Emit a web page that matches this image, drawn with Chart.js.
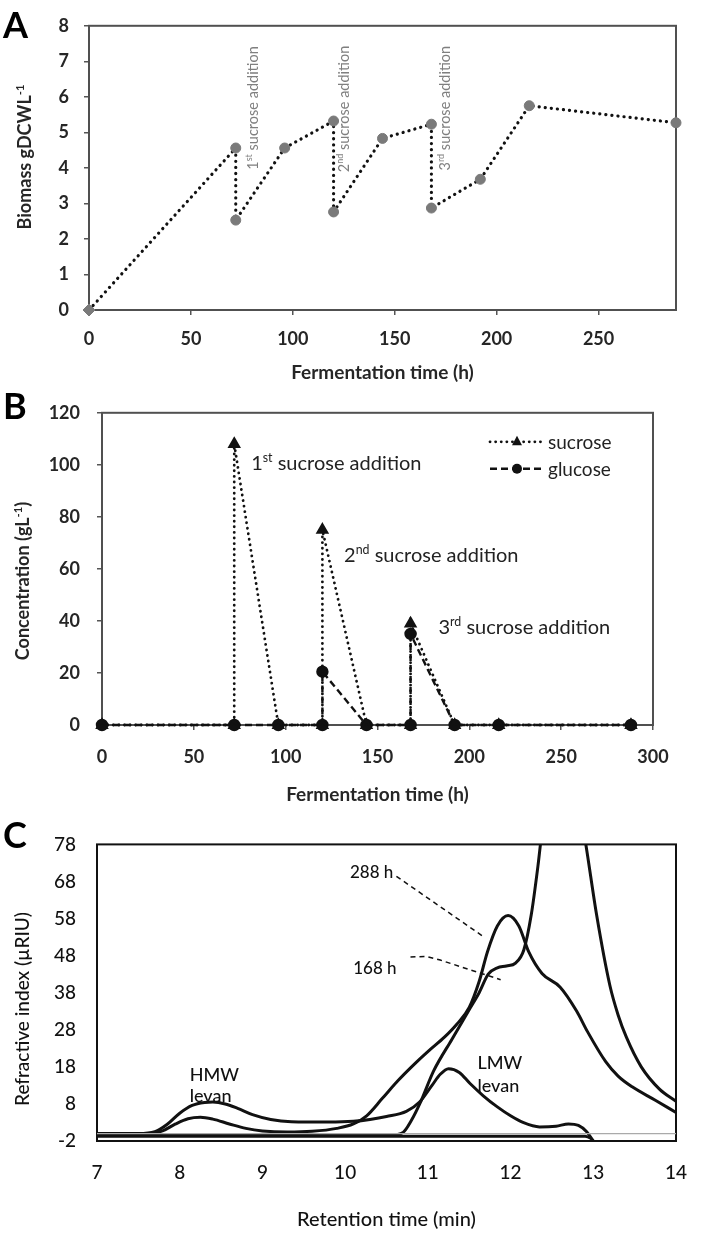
<!DOCTYPE html>
<html>
<head>
<meta charset="utf-8">
<script src="https://cdn.jsdelivr.net/npm/chart.js@4.4.1/dist/chart.umd.min.js"></script>
<style>
  html, body { margin: 0; padding: 0; background: #fff; }
  body { width: 708px; height: 1233px; position: relative; overflow: hidden; font-family: Lato, sans-serif; }
  canvas { position: absolute; left: 0; }
  .tag { position: absolute; left: 3px; font: bold 36px Lato, sans-serif; color: #000; line-height: 1; z-index: 2; }
</style>
</head>
<body>
<canvas id="chartA" width="708" height="385" style="top:0"></canvas>
<canvas id="chartB" width="708" height="430" style="top:385px"></canvas>
<canvas id="chartC" width="708" height="421" style="top:812px"></canvas>
<div class="tag" style="top:6px">A</div>
<div class="tag" style="top:387px">B</div>
<div class="tag" style="top:816px">C</div>
<script>
(function(){
  'use strict';

  // Panel A - biomass
  const biomassTime = [0, 72, 72, 96, 120, 120, 144, 168, 168, 192, 216, 288];
  const biomass     = [0, 4.56, 2.53, 4.56, 5.32, 2.76, 4.83, 5.23, 2.87, 3.68, 5.75, 5.27];
  const biomassTicksX = [0, 50, 100, 150, 200, 250];
  const biomassTicksY = [0, 1, 2, 3, 4, 5, 6, 7, 8];

  // Panel B - sugars
  const sucroseTime = [0, 72, 72, 96, 120, 120, 144, 168, 168, 192, 216, 288];
  const sucrose     = [0, 0, 108, 0, 0, 75, 0, 0, 39, 0, 0, 0];
  const glucoseTime = [0, 72, 96, 120, 120, 144, 168, 168, 192, 216, 288];
  const glucose     = [0, 0, 0, 0, 20.5, 0, 0, 35, 0, 0, 0];
  const concTicksX = [0, 50, 100, 150, 200, 250, 300];
  const concTicksY = [0, 20, 40, 60, 80, 100, 120];

  // Panel C - GPC traces
  const rt288 = [7.0, 7.6, 7.8, 7.95, 8.1, 8.25, 8.4, 8.6, 8.8, 9.0, 9.3, 9.6, 9.9, 10.1, 10.26, 10.45, 10.64, 10.85, 11.02, 11.2, 11.35, 11.5, 11.62, 11.72, 11.84, 11.97, 12.1, 12.22, 12.38, 12.6, 12.8, 12.93, 13.15, 13.3, 13.47, 13.75, 14.0];
  const ri288 = [-0.3, -0.3, 0.8, 2.6, 4.0, 4.4, 3.9, 2.6, 1.4, 0.7, 0.4, 0.6, 1.4, 2.6, 4.8, 9.5, 14.3, 19.0, 22.5, 26.0, 29.5, 34.0, 41.0, 49.0, 56.0, 58.8, 56.0, 49.0, 43.2, 39.5, 33.0, 27.5, 19.4, 15.5, 12.6, 9.0, 5.7];
  const rt168 = [7.0, 10.55, 10.7, 10.8, 10.91, 11.07, 11.29, 11.51, 11.62, 11.73, 11.84, 11.95, 12.06, 12.16, 12.25, 12.33, 12.45, 12.62, 12.78, 12.91, 13.04, 13.2, 13.3, 13.4, 13.58, 13.8, 14.0];
  const ri168 = [-0.4, -0.4, 0.3, 3.5, 8.4, 16.9, 25.4, 33.8, 38.0, 43.0, 44.7, 45.2, 46.0, 49.5, 59.0, 72.0, 95.0, 110.0, 95.0, 78.0, 59.0, 40.0, 32.0, 26.0, 18.0, 12.0, 8.7];
  const rtLmw = [7.0, 7.5, 7.7, 7.85, 8.0, 8.15, 8.3, 8.4, 8.55, 8.7, 8.88, 9.1, 9.35, 9.8, 10.1, 10.3, 10.5, 10.74, 10.9, 11.05, 11.15, 11.25, 11.38, 11.51, 11.67, 11.84, 12.0, 12.15, 12.35, 12.55, 12.7, 12.82, 12.92, 13.0];
  const riLmw = [0, 0, 0.5, 2.5, 5.5, 7.6, 8.4, 8.5, 8.0, 6.8, 5.1, 3.8, 3.2, 3.1, 3.3, 3.8, 4.6, 6.0, 8.5, 13.0, 16.0, 17.5, 16.5, 13.5, 10.2, 7.2, 4.8, 3.0, 1.8, 2.0, 2.6, 2.2, 0.5, -2];
  const rtBase = [7.0, 12.9, 12.97, 13.0];
  const riBase = [-0.7, -0.7, -1.3, -2];
  const rtZero = [7, 14];
  const riZero = [0, 0];
  const retentionTicks = [7, 8, 9, 10, 11, 12, 13, 14];
  const riTicks = [-2, 8, 18, 28, 38, 48, 58, 68, 78];

  Chart.defaults.font.family = 'Lato, "Open Sans", sans-serif';
  Chart.defaults.color = '#222';
  Chart.defaults.animation = false;

  function pts(xs, ys){ return xs.map((x, i) => ({ x: x, y: ys[i] })); }
  function fixedTicks(list){ return function(scale){ scale.ticks = list.map(v => ({ value: v })); }; }

  // text with ^sup^ parts, drawn left/center aligned around (x, y-middle)
  function drawRich(ctx, text, x, y, size, weight, color, align){
    const parts = text.split('^');
    const fontOf = i => weight + ' ' + (i % 2 ? size * 0.62 : size) + 'px Lato, sans-serif';
    let w = 0;
    parts.forEach((p, i) => { ctx.font = fontOf(i); w += ctx.measureText(p).width; });
    let cx = align === 'center' ? x - w / 2 : x;
    ctx.fillStyle = color;
    ctx.textBaseline = 'alphabetic';
    ctx.textAlign = 'left';
    parts.forEach((p, i) => {
      ctx.font = fontOf(i);
      ctx.fillText(p, cx, y + size * 0.36 - (i % 2 ? size * 0.4 : 0));
      cx += ctx.measureText(p).width;
    });
  }

  const framePlugin = {
    id: 'frame',
    beforeDatasetsDraw(chart, args, opts){
      const a = chart.chartArea, ctx = chart.ctx;
      ctx.save();
      ctx.strokeStyle = opts.color || '#444';
      ctx.lineWidth = opts.width || 2;
      ctx.strokeRect(a.left, a.top, a.right - a.left, a.bottom - a.top);
      ctx.restore();
    }
  };

  const notesPlugin = {
    id: 'notes',
    afterDatasetsDraw(chart, args, opts){
      const ctx = chart.ctx, xs = chart.scales.x, ys = chart.scales.y;
      ctx.save();
      (opts.leaders || []).forEach(l => {
        ctx.beginPath();
        ctx.setLineDash(l.dash);
        ctx.lineWidth = l.width;
        ctx.strokeStyle = l.color;
        l.points.forEach((p, i) => {
          const px = xs.getPixelForValue(p[0]), py = ys.getPixelForValue(p[1]);
          if (i) ctx.lineTo(px, py); else ctx.moveTo(px, py);
        });
        ctx.stroke();
      });
      ctx.setLineDash([]);
      (opts.items || []).forEach(n => {
        ctx.save();
        ctx.translate(xs.getPixelForValue(n.x), ys.getPixelForValue(n.y));
        if (n.rotate) ctx.rotate(n.rotate * Math.PI / 180);
        drawRich(ctx, n.text, 0, 0, n.size, n.weight || 'normal', n.color || '#222', n.align || 'left');
        ctx.restore();
      });
      const t = opts.yTitle;
      if (t) {
        ctx.save();
        ctx.translate(t.x, t.y);
        ctx.rotate(-Math.PI / 2);
        drawRich(ctx, t.text, 0, 0, t.size, t.weight, t.color, 'center');
        ctx.restore();
      }
      ctx.restore();
    }
  };

  function drawMarker(ctx, style, x, y, r){
    ctx.beginPath();
    if (style === 'triangle') {
      ctx.moveTo(x, y - r * 1.2);
      ctx.lineTo(x + r, y + r * 0.7);
      ctx.lineTo(x - r, y + r * 0.7);
      ctx.closePath();
    } else {
      ctx.arc(x, y, r, 0, Math.PI * 2);
    }
    ctx.fill();
  }

  const legendPlugin = {
    id: 'sideLegend',
    afterDatasetsDraw(chart, args, opts){
      const ctx = chart.ctx, a = chart.chartArea;
      ctx.save();
      chart.data.datasets.forEach((ds, i) => {
        const y = a.top + opts.top + i * opts.gap;
        const x0 = a.right - opts.right;
        ctx.beginPath();
        ctx.setLineDash(ds.borderDash || []);
        ctx.lineCap = ds.borderCapStyle || 'butt';
        ctx.lineWidth = ds.borderWidth;
        ctx.strokeStyle = ds.borderColor;
        ctx.moveTo(x0, y);
        ctx.lineTo(x0 + opts.sample, y);
        ctx.stroke();
        ctx.setLineDash([]);
        ctx.fillStyle = ds.pointBackgroundColor;
        drawMarker(ctx, ds.pointStyle, x0 + opts.sample / 2, y, ds.pointRadius);
        drawRich(ctx, ds.label, x0 + opts.sample + 4, y, opts.size, 'normal', '#222', 'left');
      });
      ctx.restore();
    }
  };

  function axisOpts(o){
    return {
      type: 'linear',
      min: o.min,
      max: o.max,
      afterBuildTicks: fixedTicks(o.ticks),
      afterFit: o.fit,
      border: { display: false },
      grid: {
        display: o.tickLen > 0,
        drawOnChartArea: false,
        drawTicks: o.tickLen > 0,
        tickLength: o.tickLen,
        color: o.gridColor || '#555',
        lineWidth: 1.5
      },
      ticks: {
        padding: o.pad,
        color: o.color || '#262626',
        font: { size: o.size, weight: o.weight }
      },
      title: o.title ? {
        display: true,
        text: o.title,
        color: o.color || '#262626',
        font: { size: o.titleSize, weight: o.weight },
        padding: { top: 0, bottom: o.titlePad }
      } : { display: false }
    };
  }

  // ---------- Panel A ----------
  new Chart(document.getElementById('chartA'), {
    type: 'line',
    data: {
      datasets: [{
        label: 'biomass',
        data: pts(biomassTime, biomass),
        borderColor: '#111',
        borderWidth: 3.2,
        borderDash: [0.1, 6],
        borderCapStyle: 'round',
        pointStyle: c => c.dataIndex === 0 ? 'rectRot' : 'circle',
        pointRadius: c => c.dataIndex === 0 ? 6 : 5,
        pointBackgroundColor: '#7a7a7a',
        pointBorderColor: '#7a7a7a',
        pointBorderWidth: 1,
        tension: 0,
        clip: false
      }]
    },
    options: {
      responsive: false,
      layout: { padding: { top: 21, right: 32, left: 0, bottom: 0 } },
      plugins: {
        legend: { display: false },
        tooltip: { enabled: false },
        frame: { color: '#505050', width: 2 },
        notes: {
          items: [
            { x: 80.5, y: 3.95, text: '1^st^ sucrose addition', size: 14.5, color: '#7f7f7f', rotate: -90 },
            { x: 125, y: 3.88, text: '2^nd^ sucrose addition', size: 14.5, color: '#7f7f7f', rotate: -90 },
            { x: 174.5, y: 3.93, text: '3^rd^ sucrose addition', size: 14.5, color: '#7f7f7f', rotate: -90 }
          ],
          yTitle: { text: 'Biomass gDCWL^-1^', x: 25, y: 157, size: 18, weight: 'bold', color: '#262626' }
        }
      },
      scales: {
        x: axisOpts({ min: 0, max: 288, ticks: biomassTicksX, fit: s => { s.height = 75; }, tickLen: 5, pad: 13,
                      size: 18, weight: 'bold', title: 'Fermentation time (h)', titleSize: 19, titlePad: 0.6 }),
        y: axisOpts({ min: 0, max: 8, ticks: biomassTicksY, fit: s => { s.width = 89; }, tickLen: 5, pad: 15,
                      size: 18, weight: 'bold' })
      }
    },
    plugins: [framePlugin, notesPlugin]
  });

  // ---------- Panel B ----------
  new Chart(document.getElementById('chartB'), {
    type: 'line',
    data: {
      datasets: [{
        label: 'sucrose',
        data: pts(sucroseTime, sucrose),
        borderColor: '#111',
        borderWidth: 2.8,
        borderDash: [0.1, 5.5],
        borderCapStyle: 'round',
        pointStyle: 'triangle',
        pointRadius: 5,
        pointBackgroundColor: '#111',
        pointBorderColor: '#111',
        tension: 0,
        clip: false
      }, {
        label: 'glucose',
        data: pts(glucoseTime, glucose),
        borderColor: '#111',
        borderWidth: 2.4,
        borderDash: [7, 4],
        pointStyle: 'circle',
        pointRadius: 5,
        pointBackgroundColor: '#111',
        pointBorderColor: '#111',
        tension: 0,
        clip: false
      }]
    },
    options: {
      responsive: false,
      layout: { padding: { top: 16, right: 55, left: 0, bottom: 0 } },
      plugins: {
        legend: { display: false },
        tooltip: { enabled: false },
        frame: { color: '#505050', width: 2 },
        sideLegend: { top: 29, gap: 27, right: 163, sample: 54, size: 19 },
        notes: {
          items: [
            { x: 81.2, y: 100.7, text: '1^st^ sucrose addition', size: 20 },
            { x: 131.8, y: 65.5, text: '2^nd^ sucrose addition', size: 20 },
            { x: 183.2, y: 37.8, text: '3^rd^ sucrose addition', size: 20 }
          ],
          yTitle: { text: 'Concentration (gL^-1^)', x: 23, y: 196, size: 18, weight: 'bold', color: '#262626' }
        }
      },
      scales: {
        x: axisOpts({ min: 0, max: 300, ticks: concTicksX, fit: s => { s.height = 90; }, tickLen: 5, pad: 16,
                      size: 18, weight: 'bold', title: 'Fermentation time (h)', titleSize: 19, titlePad: 8.6 }),
        y: axisOpts({ min: 0, max: 120, ticks: concTicksY, fit: s => { s.width = 102; }, tickLen: 5, pad: 17,
                      size: 18, weight: 'bold' })
      }
    },
    plugins: [framePlugin, notesPlugin, legendPlugin]
  });

  // ---------- Panel C ----------
  const traceStyle = { borderColor: '#111', borderWidth: 3, pointRadius: 0, cubicInterpolationMode: 'monotone', fill: false };
  new Chart(document.getElementById('chartC'), {
    type: 'line',
    data: {
      datasets: [
        Object.assign({ label: 'zero', data: pts(rtZero, riZero) }, traceStyle, { borderColor: '#aaa', borderWidth: 1.2 }),
        Object.assign({ label: 'baseline', data: pts(rtBase, riBase) }, traceStyle),
        Object.assign({ label: 'LMW trace', data: pts(rtLmw, riLmw) }, traceStyle),
        Object.assign({ label: '168 h', data: pts(rt168, ri168) }, traceStyle),
        Object.assign({ label: '288 h', data: pts(rt288, ri288) }, traceStyle)
      ]
    },
    options: {
      responsive: false,
      layout: { padding: { top: 13, right: 32, left: 0, bottom: 0 } },
      plugins: {
        legend: { display: false },
        tooltip: { enabled: false },
        frame: { color: '#111', width: 2 },
        notes: {
          leaders: [
            { points: [[10.62, 69.4], [11.66, 53.3]], dash: [5, 4], width: 1.5, color: '#111' },
            { points: [[10.79, 47.6], [10.98, 47.8], [11.15, 46.8], [11.88, 41.5]], dash: [5, 4], width: 1.5, color: '#111' }
          ],
          items: [
            { x: 10.32, y: 70.6, text: '288 h', size: 17, weight: '500', align: 'center', color: '#111' },
            { x: 10.36, y: 44.7, text: '168 h', size: 17, weight: '500', align: 'center', color: '#111' },
            { x: 8.12, y: 16.0, text: 'HMW', size: 18, weight: '500', color: '#111' },
            { x: 8.12, y: 10.2, text: 'levan', size: 18, weight: '500', color: '#111' },
            { x: 11.6, y: 19.1, text: 'LMW', size: 18, weight: '500', color: '#111' },
            { x: 11.6, y: 13.0, text: 'levan', size: 18, weight: '500', color: '#111' }
          ],
          yTitle: { text: 'Refractive index (µRIU)', x: 22, y: 197, size: 19, weight: '500', color: '#111' }
        }
      },
      scales: {
        x: axisOpts({ min: 7, max: 14, ticks: retentionTicks, fit: s => { s.height = 92; }, tickLen: 0, pad: 20,
                      size: 19, weight: '500', color: '#111', title: 'Retention time (min)', titleSize: 20, titlePad: 1.6 }),
        y: axisOpts({ min: -2, max: 78, ticks: riTicks, fit: s => { s.width = 97; }, tickLen: 0, pad: 21,
                      size: 19, weight: '500', color: '#111' })
      }
    },
    plugins: [framePlugin, notesPlugin]
  });
})();
</script>
</body>
</html>
